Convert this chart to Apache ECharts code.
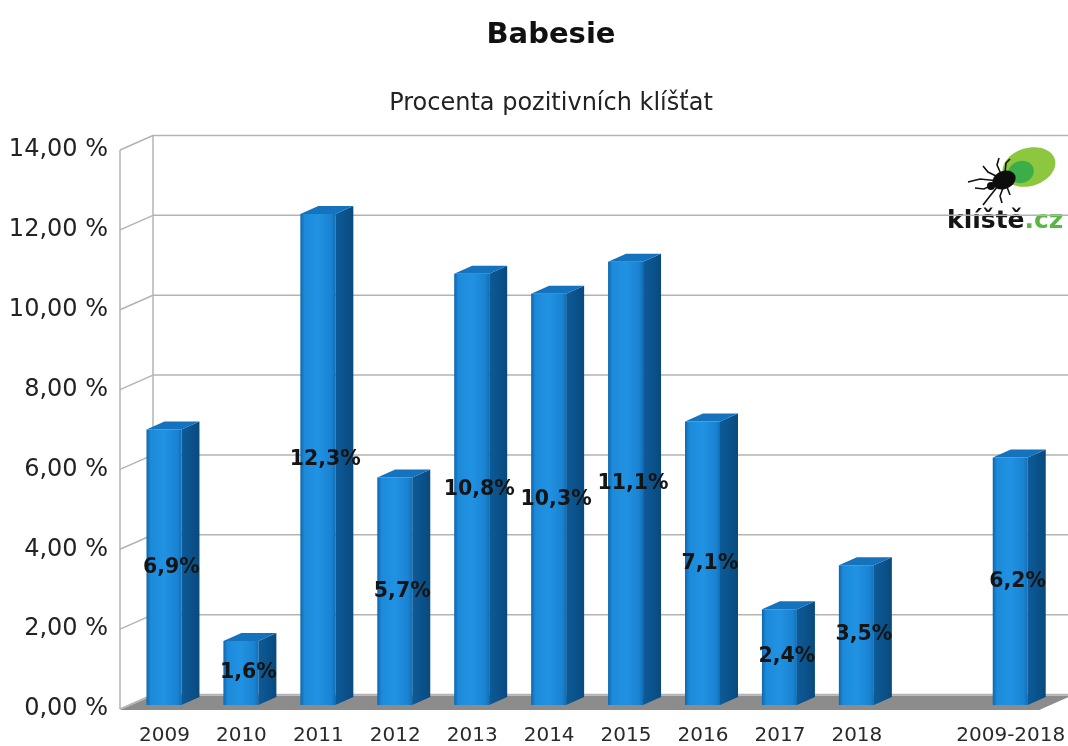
<!DOCTYPE html>
<html>
<head>
<meta charset="utf-8">
<script src="https://cdn.jsdelivr.net/npm/echarts@6/dist/echarts.min.js"></script>
<style>
  html, body { margin: 0; padding: 0; background: #ffffff; }
  #chart { width: 1068px; height: 746px; }
</style>
</head>
<body>
<div id="chart"></div>
<script>
// Share of ticks positive for Babesia, by year and for the whole period
const categories = ['2009', '2010', '2011', '2012', '2013', '2014', '2015', '2016', '2017', '2018', '', '2009-2018'];
const positiveShare = [6.9, 1.6, 12.3, 5.7, 10.8, 10.3, 11.1, 7.1, 2.4, 3.5, null, 6.2];
const yTicks = [0, 2, 4, 6, 8, 10, 12, 14];

const FONT = '"DejaVu Sans", "Liberation Sans", sans-serif';

// pseudo-3D geometry: wall depth and bar depth (screen offsets)
const WALL = { dx: 33, dy: -14.5 };
const BAR = { lift: -4, front: 35, dx: 18, dy: -8 };

const fmtPct = v => v.toFixed(1).replace('.', ',') + '%';
const fmtAxis = v => v.toFixed(2).replace('.', ',') + ' %';

const barData = [];
positiveShare.forEach((v, i) => { if (v != null) barData.push([i, v]); });

function renderFrame(params, api) {
  const cs = params.coordSys;
  const x0 = cs.x - 6;
  const y0 = api.coord([0, 0])[1];
  const yTop = api.coord([0, yTicks[yTicks.length - 1]])[1];
  const xRight = cs.x + cs.width + 60;
  const children = [];
  const lineStyle = { stroke: '#b3b3b3', lineWidth: 1.5 };
  yTicks.forEach(t => {
    const y = api.coord([0, t])[1];
    children.push({ type: 'line', shape: { x1: x0 + WALL.dx, y1: y + WALL.dy, x2: xRight, y2: y + WALL.dy }, style: lineStyle });
    children.push({ type: 'line', shape: { x1: x0, y1: y, x2: x0 + WALL.dx, y2: y + WALL.dy }, style: lineStyle });
  });
  children.push({ type: 'line', shape: { x1: x0, y1: yTop, x2: x0, y2: y0 }, style: lineStyle });
  children.push({ type: 'line', shape: { x1: x0 + WALL.dx, y1: yTop + WALL.dy, x2: x0 + WALL.dx, y2: y0 + WALL.dy }, style: lineStyle });
  const fr = cs.x + cs.width - 10;
  children.push({
    type: 'polygon',
    shape: { points: [[x0, y0 + 1], [fr, y0 + 1], [fr + WALL.dx, y0 + 1 + WALL.dy], [x0 + WALL.dx, y0 + 1 + WALL.dy]] },
    style: { fill: '#8c8c8c' }
  });
  return { type: 'group', children };
}

function renderBar(params, api) {
  const i = api.value(0);
  const v = api.value(1);
  const base = api.coord([i, 0]);
  const top = api.coord([i, v]);
  const cx = base[0];
  const yb = base[1] + BAR.lift;
  const yt = top[1] + BAR.lift;
  const xl = cx - 18;
  const xr = xl + BAR.front;
  const front = {
    type: 'rect',
    shape: { x: xl, y: yt, width: BAR.front, height: yb - yt },
    style: {
      fill: new echarts.graphic.LinearGradient(0, 0, 1, 0, [
        { offset: 0, color: '#0f66ad' },
        { offset: 0.12, color: '#1c8ad9' },
        { offset: 0.5, color: '#2192e2' },
        { offset: 0.88, color: '#1a83d2' },
        { offset: 1, color: '#126fb6' }
      ])
    }
  };
  const side = {
    type: 'polygon',
    shape: { points: [[xr, yt], [xr + BAR.dx, yt + BAR.dy], [xr + BAR.dx, yb + BAR.dy], [xr, yb]] },
    style: {
      fill: new echarts.graphic.LinearGradient(0, 0, 1, 0, [
        { offset: 0, color: '#0d5b99' },
        { offset: 1, color: '#094a7e' }
      ])
    }
  };
  const cap = {
    type: 'polygon',
    shape: { points: [[xl, yt], [xl + BAR.dx, yt + BAR.dy], [xr + BAR.dx, yt + BAR.dy], [xr, yt]] },
    style: { fill: '#1572bd' }
  };
  const label = {
    type: 'text',
    style: {
      text: fmtPct(v),
      x: cx + 7,
      y: (yt + yb) / 2,
      align: 'center',
      verticalAlign: 'middle',
      fontFamily: FONT,
      fontWeight: 'bold',
      fontSize: 20.5,
      fill: '#141414'
    },
    z2: 10
  };
  return { type: 'group', children: [front, side, cap, label] };
}

// tick-borne logo in the top right corner
const legs = [
  [[999, 181], [980, 179], [968, 182]],
  [[998, 177], [988, 172], [983, 166]],
  [[1001, 174], [997, 165], [999, 158]],
  [[1005, 173], [1006, 163], [1010, 159]],
  [[998, 186], [990, 196], [983, 205]],
  [[1003, 188], [1000, 196], [1002, 203]],
  [[996, 183], [984, 189], [975, 188]],
  [[1007, 187], [1010, 195]]
];
const logo = {
  type: 'group',
  children: [
    { type: 'rect', shape: { x: 946, y: 141, width: 122, height: 96 }, style: { fill: '#ffffff' } },
    { type: 'ellipse', x: 1029, y: 167, rotation: 0.3, shape: { cx: 0, cy: 0, rx: 27, ry: 19 }, style: { fill: '#8dc63f' } },
    { type: 'ellipse', x: 1021, y: 172, rotation: 0.3, shape: { cx: 0, cy: 0, rx: 13, ry: 11 }, style: { fill: '#3bae4a' } },
    ...legs.map(pts => ({ type: 'polyline', shape: { points: pts }, style: { stroke: '#111', lineWidth: 1.6, fill: null } })),
    { type: 'ellipse', x: 1004, y: 180, rotation: 0.4, shape: { cx: 0, cy: 0, rx: 12, ry: 9 }, style: { fill: '#0d0d0d' } },
    { type: 'circle', shape: { cx: 991, cy: 186, r: 4 }, style: { fill: '#0d0d0d' } },
    {
      type: 'text',
      x: 947, y: 234,
      style: {
        text: '{k|klíště}{c|.cz}',
        verticalAlign: 'bottom',
        rich: {
          k: { fontFamily: FONT, fontWeight: 'bold', fontSize: 25, fill: '#151515', color: '#151515' },
          c: { fontFamily: FONT, fontWeight: 'bold', fontSize: 25, fill: '#5bb647', color: '#5bb647' }
        }
      }
    }
  ]
};

const chart = echarts.init(document.getElementById('chart'), null, { renderer: 'canvas' });
chart.setOption({
  backgroundColor: '#ffffff',
  animation: false,
  title: [
    { text: 'Babesie', left: 546, textAlign: 'center', top: 16, textStyle: { fontFamily: FONT, fontWeight: 'bold', fontSize: 29, color: '#111' } },
    { text: 'Procenta pozitivních klíšťat', left: 546, textAlign: 'center', top: 87, textStyle: { fontFamily: FONT, fontWeight: 'normal', fontSize: 24, color: '#222' } }
  ],
  grid: { left: 126, right: 13, top: 150, bottom: 35 },
  xAxis: {
    type: 'category',
    data: categories,
    axisLine: { show: false },
    axisTick: { show: false },
    splitLine: { show: false },
    axisLabel: { margin: 17, fontFamily: FONT, fontSize: 20, color: '#2a2a2a', interval: 0 }
  },
  yAxis: {
    type: 'value',
    min: 0,
    max: 14,
    interval: 2,
    axisLine: { show: false },
    axisTick: { show: false },
    splitLine: { show: false },
    axisLabel: { margin: 18, fontFamily: FONT, fontSize: 24, color: '#222', formatter: fmtAxis }
  },
  graphic: [logo],
  series: [
    { type: 'custom', name: 'frame', renderItem: renderFrame, data: [[0, 0]], z: 1, silent: true },
    { type: 'custom', name: 'Babesie', renderItem: renderBar, data: barData, encode: { x: 0, y: 1 }, z: 2 }
  ]
});
</script>
</body>
</html>
